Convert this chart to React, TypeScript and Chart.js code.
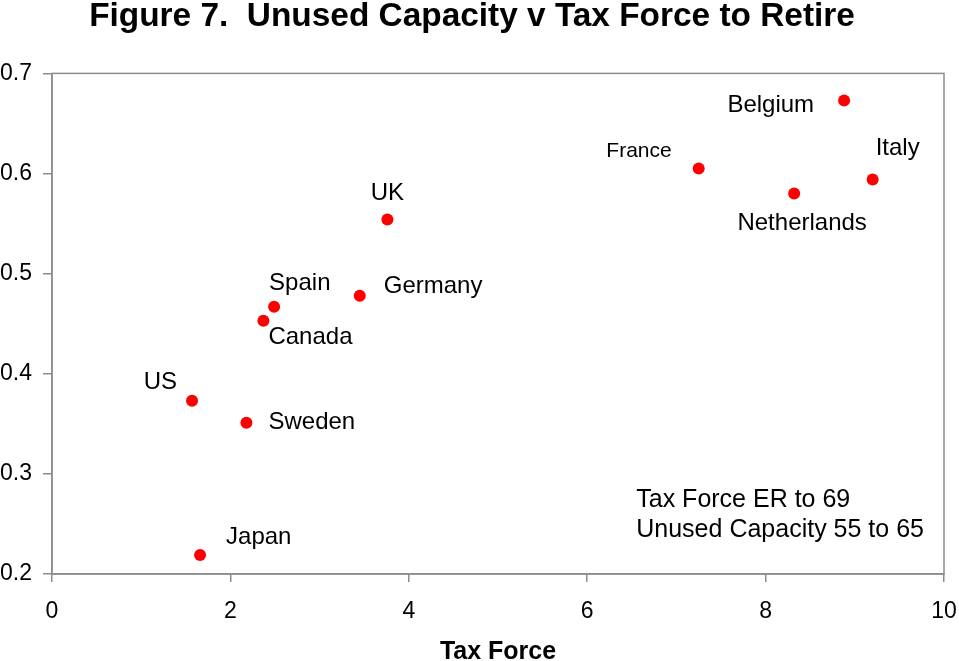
import React, { useEffect, useRef } from "react";
import { Chart, registerables } from "chart.js";

Chart.register(...registerables);

const countries = ["Belgium", "Italy", "France", "Netherlands", "UK", "Germany", "Spain", "Canada", "US", "Sweden", "Japan"];
const taxForce = [8.88, 9.2, 7.25, 8.32, 3.76, 3.45, 2.49, 2.37, 1.57, 2.18, 1.66];
const unusedCapacity = [0.673, 0.594, 0.605, 0.58, 0.554, 0.478, 0.467, 0.453, 0.373, 0.351, 0.219];
const xTicks = [0, 2, 4, 6, 8, 10];
const yTicks = [0.2, 0.3, 0.4, 0.5, 0.6, 0.7];
const noteLines = ["Tax Force ER to 69", "Unused Capacity 55 to 65"];

// label placement: [dx, dy, align, fontSize]
const labelPlacement: Record<string, [number, number, CanvasTextAlign, number]> = {
  Belgium: [-30, 5, "right", 24],
  Italy: [3, -31, "left", 24],
  France: [-27, -17, "right", 21],
  Netherlands: [8, 30, "center", 24],
  UK: [0, -26, "center", 24],
  Germany: [24, -9, "left", 24],
  Spain: [-5, -23, "left", 24],
  Canada: [5, 17, "left", 24],
  US: [-15, -18, "right", 24],
  Sweden: [22, 0, "left", 24],
  Japan: [26, -18, "left", 24],
};

const FONT = "Arial, 'Liberation Sans', sans-serif";

const labelsPlugin = {
  id: "pointLabels",
  afterDatasetsDraw(chart: any) {
    const ctx = chart.ctx;
    const xs = chart.scales.x;
    const ys = chart.scales.y;
    const ca = chart.chartArea;
    ctx.save();
    ctx.strokeStyle = "#8c8c8c";
    ctx.lineWidth = 1.5;
    ctx.strokeRect(ca.left, ca.top, ca.right - ca.left, ca.bottom - ca.top);
    ctx.fillStyle = "#000";
    ctx.textBaseline = "middle";
    countries.forEach((c, i) => {
      const [dx, dy, align, size] = labelPlacement[c];
      ctx.font = `${size}px ${FONT}`;
      ctx.textAlign = align;
      ctx.fillText(c, xs.getPixelForValue(taxForce[i]) + dx, ys.getPixelForValue(unusedCapacity[i]) + dy);
    });
    ctx.font = `25px ${FONT}`;
    ctx.textAlign = "left";
    const nx = xs.getPixelForValue(6.55);
    ctx.fillText(noteLines[0], nx, ys.getPixelForValue(0.274));
    ctx.fillText(noteLines[1], nx, ys.getPixelForValue(0.244));
    ctx.restore();
  },
};

export default function App() {
  const ref = useRef<HTMLCanvasElement>(null);
  useEffect(() => {
    document.body.style.margin = "0";
    const chart = new Chart(ref.current!, {
      type: "scatter",
      data: {
        datasets: [
          {
            data: taxForce.map((x, i) => ({ x, y: unusedCapacity[i] })),
            backgroundColor: "#ff0000",
            borderWidth: 0,
            pointRadius: 6,
          },
        ],
      },
      options: {
        responsive: false,
        animation: false,
        layout: { autoPadding: false, padding: { left: 0, right: 15, top: 0, bottom: 0 } },
        plugins: {
          legend: { display: false },
          tooltip: { enabled: false },
          title: {
            display: true,
            text: "Figure 7.  Unused Capacity v Tax Force to Retire",
            color: "#000",
            font: { family: FONT, size: 33.4, weight: "bold", lineHeight: 1 },
            padding: { top: 0, bottom: 40 },
          },
        },
        scales: {
          x: {
            type: "linear",
            min: 0,
            max: 10,
            afterBuildTicks: (s: any) => {
              s.ticks = xTicks.map((v) => ({ value: v }));
            },
            afterFit: (s: any) => {
              s.height = 87;
              s.paddingLeft = 0;
              s.paddingRight = 0;
            },
            grid: { drawOnChartArea: false, drawTicks: true, tickLength: 8, color: "#8c8c8c", lineWidth: 1.5 },
            border: { display: true, color: "#8c8c8c", width: 1.5 },
            ticks: { color: "#000", font: { family: FONT, size: 23 }, padding: 16, maxRotation: 0 },
            title: {
              display: true,
              text: "Tax Force",
              color: "#000",
              font: { family: FONT, size: 25, weight: "bold", lineHeight: 0.75 },
              padding: { top: 0, bottom: 0 },
            },
          },
          y: {
            type: "linear",
            min: 0.2,
            max: 0.7,
            afterBuildTicks: (s: any) => {
              s.ticks = yTicks.map((v) => ({ value: v }));
            },
            afterFit: (s: any) => {
              s.width = 52;
              s.paddingTop = 0;
              s.paddingBottom = 0;
            },
            grid: { drawOnChartArea: false, drawTicks: true, tickLength: 9, color: "#8c8c8c", lineWidth: 1.5 },
            border: { display: true, color: "#8c8c8c", width: 1.5 },
            ticks: {
              color: "#000",
              font: { family: FONT, size: 23 },
              padding: 11,
              callback: (v: any) => Number(v).toFixed(1),
            },
          },
        },
      },
      plugins: [labelsPlugin],
    });
    return () => chart.destroy();
  }, []);
  return (
    <div style={{ position: "absolute", left: 0, top: 0 }}>
      <canvas ref={ref} width={959} height={661} style={{ display: "block" }} />
    </div>
  );
}
